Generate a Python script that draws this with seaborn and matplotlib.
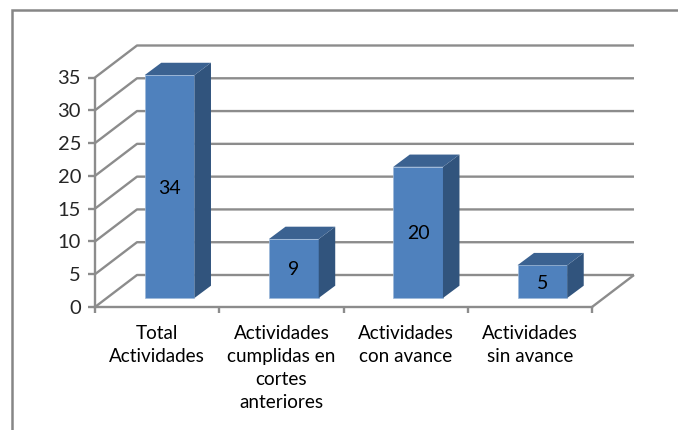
#!/usr/bin/env python3
"""Fake 3D column chart of activity counts, Excel style."""

import matplotlib
matplotlib.use('Agg')
import matplotlib.pyplot as plt
from matplotlib.patches import Polygon, Rectangle
from matplotlib.transforms import ScaledTranslation
import pandas as pd
import seaborn as sns

CATEGORIES = [
    "Total\nActividades",
    "Actividades\ncumplidas en\ncortes\nanteriores",
    "Actividades\ncon avance",
    "Actividades\nsin avance",
]
VALUES = [34, 9, 20, 5]
Y_TICKS = [0, 5, 10, 15, 20, 25, 30, 35]

W, H = 678, 430
DPI = 100
FRONT, SIDE, TOP = "#4F81BD", "#31547D", "#3B6291"
GRID = "#8C8C8C"

sns.set_style("white")
plt.rcParams['font.family'] = ['Lato', 'DejaVu Sans']

fig = plt.figure(figsize=(W / DPI, H / DPI), dpi=DPI)
ax = fig.add_axes([95 / W, 1 - 307 / H, 497 / W, 229.5 / H])

df = pd.DataFrame({"cat": CATEGORIES, "val": VALUES})
sns.barplot(data=df, x="cat", y="val", ax=ax, color=FRONT, saturation=1, width=0.4, zorder=3)
ax.set_xlim(-0.5, 3.5)
ax.set_ylim(0, 35)
ax.set_xlabel("")
ax.set_ylabel("")

# pixel sizes of the wall depth and of the bar plane/depth, in data units
px_x = 4 / 497
px_y = 35 / 229.5
wall_dx, wall_dy = 42 * px_x, 32 * px_y
bar_shift = ScaledTranslation(12.5 / DPI, 9 / DPI, fig.dpi_scale_trans)
text_shift = ScaledTranslation(12.5 / DPI, 7.5 / DPI, fig.dpi_scale_trans)
bar_dx, bar_dy = 16.5 * px_x, 12.3 * px_y

# back wall, side wall and floor
x0, x1 = ax.get_xlim()
line_kw = dict(color=GRID, lw=1.7, clip_on=False, zorder=1, solid_capstyle="butt")
for t in Y_TICKS:
    ax.plot([x0, x0 + wall_dx, x1 + wall_dx], [t, t + wall_dy, t + wall_dy], **line_kw)
ax.plot([x1, x1 + wall_dx], [0, wall_dy], **line_kw)

# bars sit inside the floor, so move them and add their top and side faces
for patch, val in zip(ax.patches, VALUES):
    patch.set_transform(ax.transData + bar_shift)
    patch.set_clip_on(False)
    patch.set_edgecolor("#9DB9DA")
    patch.set_linewidth(0.5)
    left, right = patch.get_x(), patch.get_x() + patch.get_width()
    side = [(right, 0), (right + bar_dx, bar_dy), (right + bar_dx, val + bar_dy), (right, val)]
    top = [(left, val), (left + bar_dx, val + bar_dy), (right + bar_dx, val + bar_dy), (right, val)]
    for pts, col in ((side, SIDE), (top, TOP)):
        ax.add_patch(Polygon(pts, closed=True, facecolor=col, edgecolor="none", clip_on=False,
                             zorder=3, transform=ax.transData + bar_shift))
    ax.text((left + right) / 2, val / 2, str(val), ha="center", va="center", fontsize=14,
            color="black", zorder=4, transform=ax.transData + text_shift)

ax.set_yticks(Y_TICKS)
ax.set_xticks([x0, x0 + 1, x0 + 2, x0 + 3, x1])
ax.set_xticklabels([])
ax.tick_params(axis="y", left=True, length=5, width=1.7, color=GRID, labelsize=14.5, pad=5)
ax.tick_params(axis="x", bottom=True, length=4, width=1.7, color=GRID)
for c, label in enumerate(CATEGORIES):
    ax.annotate(label, (c, 0), xytext=(0, -13), textcoords="offset points", ha="center", va="top",
                fontsize=13.6, linespacing=1.43, color="black", annotation_clip=False)

sns.despine(ax=ax, top=True, right=True)
for name in ("left", "bottom"):
    ax.spines[name].set_color(GRID)
    ax.spines[name].set_linewidth(1.7)
    ax.spines[name].set_zorder(1)
ax.patch.set_alpha(0)

# outer chart frame, cut off by the picture on the right and bottom
fig.add_artist(Rectangle((12 / W, -0.1), 1, 1 - 10 / H + 0.1, transform=fig.transFigure,
                         facecolor="none", edgecolor="#868686", lw=1.8))

fig.savefig("out.png", dpi=DPI, facecolor="white")
plt.close(fig)
